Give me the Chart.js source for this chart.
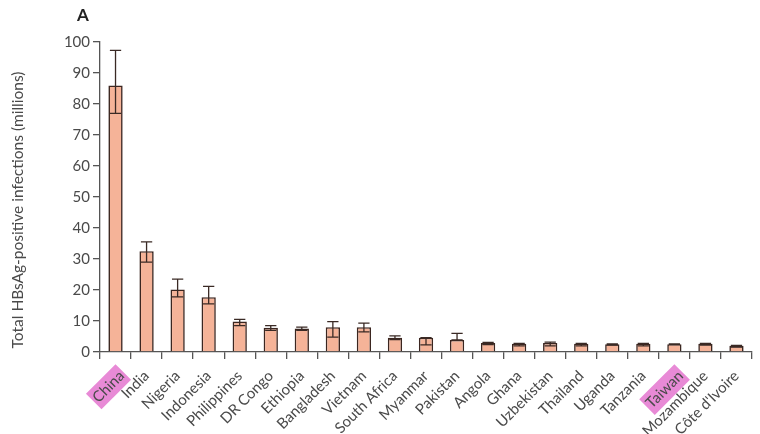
<!DOCTYPE html>
<html>
<head>
<meta charset="utf-8">
<script src="https://cdn.jsdelivr.net/npm/chart.js@4/dist/chart.umd.min.js"></script>
<style>
html,body{margin:0;padding:0;background:#fff;}
#wrap{width:760px;height:434px;position:relative;}
</style>
</head>
<body>
<div id="wrap"><canvas id="c" width="760" height="434"></canvas></div>
<script>
const categories = ["China","India","Nigeria","Indonesia","Philippines","DR Congo","Ethiopia","Bangladesh","Vietnam","South Africa","Myanmar","Pakistan","Angola","Ghana","Uzbekistan","Thailand","Uganda","Tanzania","Taiwan","Mozambique","Côte d'Ivoire"];
const values = [86, 32.5, 20.2, 17.7, 9.8, 7.8, 7.6, 8.0, 8.0, 4.6, 4.6, 3.9, 2.9, 2.7, 2.9, 2.7, 2.5, 2.7, 2.5, 2.7, 2.0];
const errLow = [77, 29, 17.8, 15.5, 8.5, 7.0, 7.0, 4.8, 6.5, 4.0, 2.3, 3.9, 2.4, 2.0, 2.0, 2.0, 2.2, 2.0, 2.5, 2.2, 1.6];
const errHigh = [97.3, 35.5, 23.5, 21.2, 10.5, 8.5, 8.0, 9.8, 9.3, 5.2, 4.6, 6.0, 3.1, 2.8, 3.2, 2.8, 2.6, 2.8, 2.6, 2.8, 2.1];
const highlighted = ["China","Taiwan"];
const yTicks = [0,10,20,30,40,50,60,70,80,90,100];
const yTitle = 'Total HBsAg-positive infections (millions)';

const textColor = '#4a4a4a';
const fontFamily = 'Lato, "Open Sans", sans-serif';

const errorBarPlugin = {
  id: 'errorBars',
  afterDatasetsDraw(chart) {
    const ctx = chart.ctx;
    const meta = chart.getDatasetMeta(0);
    const y = chart.scales.y;
    ctx.save();
    ctx.strokeStyle = '#3a2a25';
    ctx.lineWidth = 1.3;
    meta.data.forEach((bar, i) => {
      const x = bar.x;
      const yl = y.getPixelForValue(errLow[i]);
      const yh = y.getPixelForValue(errHigh[i]);
      const half = bar.width / 2 - 1.5;
      ctx.beginPath();
      ctx.moveTo(x, yl); ctx.lineTo(x, yh);
      ctx.moveTo(x - half, yh); ctx.lineTo(x + half, yh);
      ctx.moveTo(x - half, yl); ctx.lineTo(x + half, yl);
      ctx.stroke();
    });
    ctx.restore();
  }
};

const textPlugin = {
  id: 'texts',
  afterDraw(chart) {
    const ctx = chart.ctx;
    ctx.save();
    ctx.fillStyle = '#222';
    ctx.font = 'bold 17px ' + fontFamily;
    ctx.textBaseline = 'middle';
    ctx.fillText('A', 77, 16);
    ctx.fillStyle = textColor;
    ctx.font = '15.5px ' + fontFamily;
    ctx.translate(18, 210);
    ctx.rotate(-Math.PI / 2);
    ctx.textAlign = 'center';
    ctx.fillText(yTitle, 0, 0);
    ctx.restore();
  }
};

new Chart(document.getElementById('c'), {
  type: 'bar',
  data: {
    labels: categories,
    datasets: [{
      data: values,
      backgroundColor: '#f5b398',
      borderColor: '#3b2620',
      borderWidth: 1.6,
      barPercentage: 0.46,
      categoryPercentage: 1.0
    }]
  },
  options: {
    responsive: false,
    animation: false,
    devicePixelRatio: 1,
    layout: { padding: { top: 42, right: 8, left: 0, bottom: 0 } },
    plugins: { legend: { display: false }, tooltip: { enabled: false } },
    scales: {
      y: {
        min: 0, max: 100,
        afterBuildTicks(scale) { scale.ticks = yTicks.map(v => ({ value: v })); },
        afterFit(scale) { scale.width = 100; },
        border: { display: true, color: '#555', width: 1.3 },
        grid: { display: true, drawOnChartArea: false, drawTicks: true, tickLength: 7, color: '#555', lineWidth: 1.3 },
        ticks: { color: textColor, font: { family: fontFamily, size: 15 }, padding: 3 }
      },
      x: {
        offset: true,
        afterFit(scale) { scale.height = 82; },
        border: { display: true, color: '#555', width: 1.3 },
        grid: { display: true, offset: true, drawOnChartArea: false, drawTicks: true, tickLength: 7, color: '#555', lineWidth: 1.3 },
        ticks: {
          color: textColor,
          font: { family: fontFamily, size: 15 },
          minRotation: 45, maxRotation: 45,
          autoSkip: false,
          padding: 8,
          showLabelBackdrop: (c) => highlighted.includes(categories[c.index]),
          backdropColor: (c) => highlighted.includes(categories[c.index]) ? '#e88ad6' : 'rgba(0,0,0,0)',
          backdropPadding: 2
        }
      }
    }
  },
  plugins: [errorBarPlugin, textPlugin]
});
</script>
</body>
</html>
